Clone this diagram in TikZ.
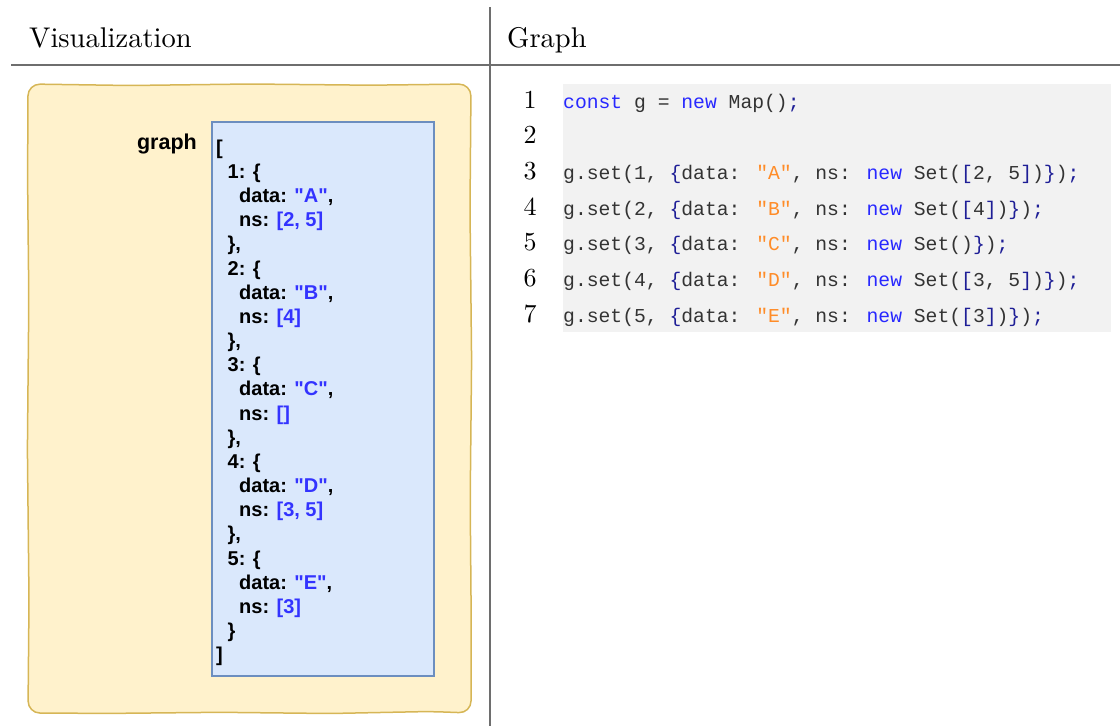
\documentclass[tikz,border=0pt]{standalone}
\usepackage{fontspec}
\setmainfont{lmroman10-regular}[Extension=.otf]
\newfontfamily\boxfont{Liberation Sans}
\newfontfamily\codefont{Liberation Mono}

\definecolor{rulegray}{RGB}{110,110,110}
\definecolor{noteFill}{HTML}{FFF2CC}
\definecolor{noteLine}{HTML}{D6B656}
\definecolor{mapFill}{HTML}{DAE8FC}
\definecolor{mapLine}{HTML}{6C8EBF}
\definecolor{valblue}{RGB}{51,51,255}
\definecolor{codebg}{RGB}{242,242,242}
\definecolor{codegray}{RGB}{51,51,51}
\definecolor{kwblue}{RGB}{40,40,255}
\definecolor{pnnavy}{RGB}{30,30,150}
\definecolor{strorange}{RGB}{255,140,40}

\newcommand\cKw[1]{\textcolor{kwblue}{#1}}
\newcommand\cPn[1]{\textcolor{pnnavy}{#1}}
\newcommand\cSt[1]{\textcolor{strorange}{#1}}
\newcommand\vB[1]{\textcolor{valblue}{#1}}

\tikzset{
  hdr/.style={anchor=base west, inner sep=0pt, font=\fontsize{28.5}{34}\selectfont},
  boxtxt/.style={anchor=base west, inner sep=0pt, text=black,
    font=\boxfont\bfseries\fontsize{20}{24}\selectfont},
  lbltxt/.style={anchor=base east, inner sep=0pt, text=black,
    font=\boxfont\bfseries\fontsize{21.5}{26}\selectfont},
  codeln/.style={anchor=base west, inner sep=0pt, text=codegray,
    font=\codefont\fontsize{19.7}{24}\selectfont},
  lnum/.style={anchor=base, inner sep=0pt, font=\fontsize{26}{30}\selectfont},
  tablerule/.style={draw=rulegray, line width=1.5pt},
}

\begin{document}
\begin{tikzpicture}[x=1pt,y=-1pt]
\useasboundingbox (0,0) rectangle (1120,726);

% table header and rules
\node[hdr] (hvis) at (29,47) {Visualization};
\node[hdr] (hgraph) at (507,47) {Graph};
\coordinate (rl) at (11,65);
\coordinate (rr) at (1120,65);
\coordinate (vt) at (490,7);
\coordinate (vb) at (490,726);
\draw[tablerule] (rl) -- (rr);
\draw[tablerule] (vt) -- (vb);

% sketchy note frame
\draw[fill=noteFill, draw=noteLine, line width=1.5pt, rounded corners=12pt]
  (28,84) -- (130,85.5) -- (250,84) -- (370,85.2) -- (471,84)
  -- (470,210) -- (471.6,360) -- (470.2,500) -- (471.2,620) -- (471,713)
  -- (430,711.5) -- (330,713.5) -- (220,712.3) -- (110,713.4) -- (28,713)
  -- (29,600) -- (27.4,450) -- (28.8,300) -- (27.6,180) -- cycle;

% map contents
\node[lbltxt] (lbl) at (197,149) {graph};
\draw[fill=mapFill, draw=mapLine, line width=1.3pt] (212,122) rectangle (434,676);
\foreach \lvl/\txt [count=\i from 0] in {
  0/{[},
  1/{1: \{}, 2/{data: \vB{"A"},}, 2/{ns: \vB{[2, 5]}}, 1/{\},},
  1/{2: \{}, 2/{data: \vB{"B"},}, 2/{ns: \vB{[4]}}, 1/{\},},
  1/{3: \{}, 2/{data: \vB{"C"},}, 2/{ns: \vB{[]}}, 1/{\},},
  1/{4: \{}, 2/{data: \vB{"D"},}, 2/{ns: \vB{[3, 5]}}, 1/{\},},
  1/{5: \{}, 2/{data: \vB{"E"},}, 2/{ns: \vB{[3]}}, 1/{\}},
  0/{]}}
  \node[boxtxt] (m\i) at ({216+11.5*\lvl},{154.2+24.17*\i}) {\txt};

% code listing
\fill[codebg] (563,84) rectangle (1111,332);
\foreach \n in {1,...,7}
  \node[lnum] (n\n) at (530,{108+35.7*(\n-1)}) {\n};
\node[codeln] (c1) at (563,108)
  {\cKw{const} g = \cKw{new} Map()\cPn{;}};
\node[codeln] (c3) at (563,179.4)
  {g.set(1, \cPn{\{}data: \cSt{"A"}, ns: \cKw{new} Set(\cPn{[}2, 5\cPn{]})\cPn{\}})\cPn{;}};
\node[codeln] (c4) at (563,215.1)
  {g.set(2, \cPn{\{}data: \cSt{"B"}, ns: \cKw{new} Set(\cPn{[}4\cPn{]})\cPn{\}})\cPn{;}};
\node[codeln] (c5) at (563,250.8)
  {g.set(3, \cPn{\{}data: \cSt{"C"}, ns: \cKw{new} Set()\cPn{\}})\cPn{;}};
\node[codeln] (c6) at (563,286.5)
  {g.set(4, \cPn{\{}data: \cSt{"D"}, ns: \cKw{new} Set(\cPn{[}3, 5\cPn{]})\cPn{\}})\cPn{;}};
\node[codeln] (c7) at (563,322.2)
  {g.set(5, \cPn{\{}data: \cSt{"E"}, ns: \cKw{new} Set(\cPn{[}3\cPn{]})\cPn{\}})\cPn{;}};
\end{tikzpicture}
\end{document}
